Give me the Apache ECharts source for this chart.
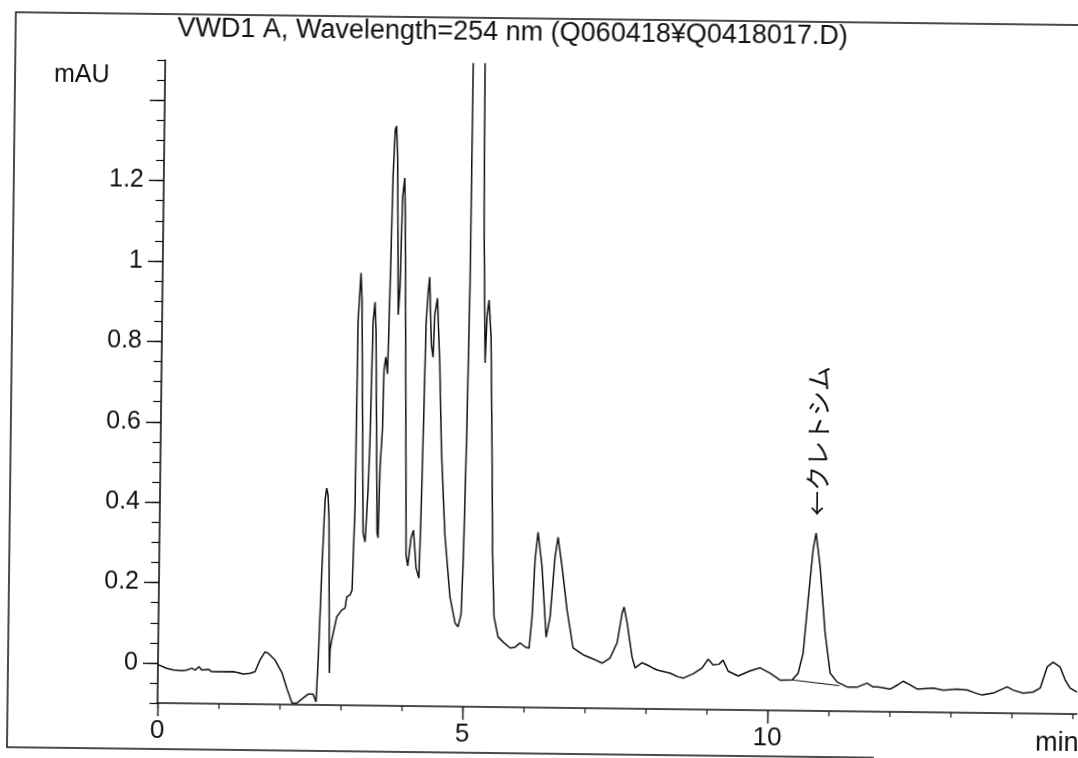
<!DOCTYPE html>
<html><head><meta charset="utf-8">
<script src="https://cdn.jsdelivr.net/npm/echarts@6/dist/echarts.min.js"></script>
<style>
html,body{margin:0;padding:0;background:#fff;overflow:hidden}
#c{width:1078px;height:758px;transform:rotate(0.69deg);transform-origin:158px 663px;}
</style></head><body><div id="c"></div>
<script>
// retention time (min)
const times = [0.000,0.144,0.252,0.390,0.472,0.553,0.608,0.673,0.718,0.826,0.882,1.236,1.318,1.400,1.510,1.592,1.671,1.752,1.801,1.917,2.035,2.120,2.205,2.287,2.384,2.465,2.547,2.598,2.627,2.666,2.706,2.731,2.754,2.775,2.810,2.817,2.843,2.920,3.001,3.055,3.080,3.134,3.166,3.199,3.212,3.251,3.273,3.335,3.370,3.409,3.431,3.458,3.486,3.508,3.565,3.582,3.601,3.633,3.647,3.674,3.704,3.720,3.737,3.757,3.784,3.804,3.828,3.869,3.893,3.918,3.949,3.967,4.036,4.044,4.074,4.123,4.161,4.211,4.259,4.282,4.309,4.327,4.354,4.377,4.418,4.448,4.468,4.509,4.561,4.604,4.676,4.772,4.861,4.911,4.958,4.985,5.016,5.040,5.049,5.080,5.150,5.220,5.243,5.257,5.302,5.325,5.355,5.395,5.433,5.461,5.499,5.569,5.652,5.768,5.849,5.930,6.014,6.079,6.122,6.160,6.204,6.276,6.356,6.417,6.487,6.533,6.604,6.694,6.800,6.966,7.163,7.279,7.409,7.521,7.597,7.628,7.681,7.769,7.821,7.934,8.017,8.116,8.198,8.395,8.527,8.610,8.773,8.919,9.016,9.099,9.197,9.262,9.346,9.511,9.707,9.870,10.035,10.200,10.397,10.494,10.572,10.643,10.715,10.761,10.834,10.928,11.018,11.135,11.300,11.464,11.627,11.726,11.808,12.005,12.119,12.216,12.332,12.448,12.710,12.874,13.104,13.268,13.399,13.515,13.695,13.923,14.022,14.186,14.350,14.464,14.575,14.672,14.787,14.872,14.955,15.070];
// absorbance (mAU)
const absorbance = [-0.004,-0.013,-0.017,-0.0185,-0.0166,-0.0122,-0.0163,-0.008,-0.016,-0.0142,-0.020,-0.0194,-0.0217,-0.0248,-0.0229,-0.0188,0.0105,0.0306,0.028,0.011,-0.021,-0.061,-0.0955,-0.095,-0.083,-0.073,-0.0725,-0.092,0.020,0.229,0.410,0.440,0.423,0.361,-0.020,0.0375,0.062,0.120,0.137,0.142,0.170,0.175,0.187,0.394,0.852,0.976,0.909,0.330,0.307,0.437,0.561,0.852,0.904,0.835,0.330,0.318,0.494,0.589,0.736,0.768,0.726,0.850,1.009,1.218,1.333,1.343,1.271,0.873,0.945,1.166,1.214,1.114,0.381,0.276,0.249,0.319,0.338,0.244,0.219,0.381,0.642,0.851,0.926,0.968,0.799,0.769,0.874,0.916,0.747,0.538,0.329,0.173,0.108,0.099,0.131,0.278,0.591,0.957,1.502,2.300,3.000,2.300,1.502,1.119,0.756,0.870,0.913,0.821,0.540,0.291,0.124,0.075,0.0625,0.048,0.050,0.0605,0.051,0.048,0.126,0.268,0.337,0.250,0.076,0.126,0.276,0.325,0.251,0.144,0.050,0.033,0.021,0.013,0.026,0.064,0.138,0.153,0.114,0.029,0.002,0.015,0.010,0.002,-0.003,-0.010,-0.019,-0.022,-0.011,0.004,0.026,0.012,0.014,0.024,-0.003,-0.015,-0.002,0.006,-0.007,-0.024,-0.023,-0.006,0.044,0.176,0.301,0.343,0.259,0.095,-0.005,-0.027,-0.039,-0.039,-0.029,-0.038,-0.038,-0.043,-0.033,-0.023,-0.032,-0.042,-0.039,-0.044,-0.041,-0.043,-0.050,-0.055,-0.050,-0.034,-0.042,-0.049,-0.046,-0.036,0.017,0.029,0.017,-0.015,-0.035,-0.045];
// integration baseline under the labelled peak
const baselineTimes = [10.39, 11.17];
const baselineValues = [-0.023, -0.036];
// annotation
const annotationText = '←クレトシム';
const annotationTime = 10.761;
const annotationValue = 0.343;
// axes
const titleText = 'VWD1 A, Wavelength=254 nm (Q060418¥Q0418017.D)';
const yUnit = 'mAU';
const xUnit = 'min';
const yMajorTicks = [0, 0.2, 0.4, 0.6, 0.8, 1.0, 1.2, 1.4];
const yLabelValues = [0, 0.2, 0.4, 0.6, 0.8, 1.0, 1.2];
const yTickLabels = ['0', '0.2', '0.4', '0.6', '0.8', '1', '1.2'];
const yMinorTicks = Array.from({length: 33}, (_, i) => +(-0.1 + i * 0.05).toFixed(2));
const xMajorTicks = [0, 5, 10];
const xTickLabels = ['0', '5', '10'];
const xMinorTicks = Array.from({length: 16}, (_, i) => i);

const FONT = '"Liberation Sans", Arial, sans-serif';
const INK = '#111';
const X_MIN = 0, X_MAX = 15.08, Y_MIN = -0.1, Y_MAX = 1.5;

function lookup(vals, labels, v) {
  const i = vals.findIndex(t => Math.abs(t - v) < 1e-6);
  return i >= 0 ? labels[i] : '';
}

const chart = echarts.init(document.getElementById('c'), null, {renderer: 'canvas'});
const option = {
  animation: false,
  backgroundColor: '#fff',
  grid: {left: 158, top: 60, right: 0, bottom: 54.8},
  xAxis: [{
    type: 'value', min: X_MIN, max: X_MAX,
    axisLine: {onZero: false, lineStyle: {color: INK, width: 1.6}},
    splitLine: {show: false},
    axisTick: {customValues: xMajorTicks, length: 13, lineStyle: {color: INK, width: 1.4}},
    axisLabel: {customValues: xMajorTicks, formatter: v => lookup(xMajorTicks, xTickLabels, v),
      fontSize: 26, color: INK, fontFamily: FONT, margin: 15}
  }, {
    type: 'value', min: X_MIN, max: X_MAX, position: 'bottom',
    axisLine: {show: false, onZero: false}, splitLine: {show: false},
    axisTick: {customValues: xMinorTicks, length: 5, lineStyle: {color: INK, width: 1.2}},
    axisLabel: {show: false}
  }],
  yAxis: [{
    type: 'value', min: Y_MIN, max: Y_MAX,
    axisLine: {onZero: false, lineStyle: {color: INK, width: 1.6}},
    splitLine: {show: false},
    axisTick: {customValues: yMajorTicks, length: 15, lineStyle: {color: INK, width: 1.4}},
    axisLabel: {customValues: yLabelValues, formatter: v => lookup(yLabelValues, yTickLabels, v),
      fontSize: 25, color: INK, fontFamily: FONT, margin: 20}
  }, {
    type: 'value', min: Y_MIN, max: Y_MAX, position: 'left',
    axisLine: {show: false, onZero: false}, splitLine: {show: false},
    axisTick: {customValues: yMinorTicks, length: 8, lineStyle: {color: INK, width: 1.2}},
    axisLabel: {show: false}
  }],
  series: [{
    type: 'line', xAxisIndex: 0, yAxisIndex: 0,
    data: times.map((t, i) => [t, absorbance[i]]),
    symbol: 'none', smooth: false, clip: true,
    lineStyle: {color: INK, width: 1.5}
  }, {
    type: 'line', xAxisIndex: 0, yAxisIndex: 0,
    data: baselineTimes.map((t, i) => [t, baselineValues[i]]),
    symbol: 'none', clip: true,
    lineStyle: {color: INK, width: 1.2}
  }]
};
chart.setOption(option);

const p = chart.convertToPixel({xAxisIndex: 0, yAxisIndex: 0}, [annotationTime, annotationValue]);
chart.setOption({
  graphic: [
    {type: 'polyline', silent: true,
     shape: {points: [[1090, 14], [8, 14], [8, 749], [875, 749]]},
     style: {stroke: INK, lineWidth: 1.5, fill: null}},
    {type: 'text', x: 505, y: 29,
     style: {text: titleText, font: '27px ' + FONT, fill: INK, textAlign: 'center', textVerticalAlign: 'middle'}},
    {type: 'text', x: 47, y: 76,
     style: {text: yUnit, font: '25px ' + FONT, fill: INK, textAlign: 'left', textVerticalAlign: 'middle'}},
    {type: 'text', x: 1036, y: 746,
     style: {text: xUnit, font: '27px ' + FONT, fill: INK, textAlign: 'left', textVerticalAlign: 'bottom'}},
    {type: 'text', x: p[0] + 1, y: p[1] - 17, rotation: Math.PI / 2,
     style: {text: annotationText, font: '25px "Noto Sans CJK JP"', fill: INK, textAlign: 'left', textVerticalAlign: 'middle'}}
  ]
});
</script></body></html>
